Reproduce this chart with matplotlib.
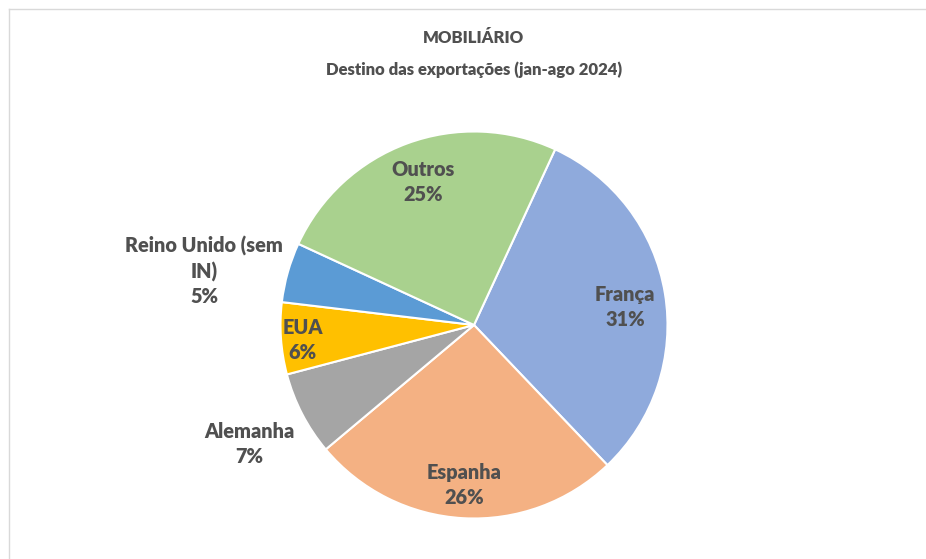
import matplotlib
matplotlib.use("Agg")
import matplotlib.pyplot as plt
from matplotlib.lines import Line2D

categories = ["França", "Espanha", "Alemanha", "EUA", "Reino Unido (sem\nIN)", "Outros"]
values = [31, 26, 7, 6, 5, 25]
colors = ["#8FAADC", "#F4B183", "#A5A5A5", "#FFC000", "#5B9BD5", "#A9D18E"]
title = "MOBILIÁRIO\nDestino das exportações (jan-ago 2024)"

# label positions in units of pie radius (relative to centre)
label_pos = [(0.78, 0.093), (-0.052, -0.827), (-1.16, -0.615),
             (-0.885, -0.078), (-1.395, 0.279), (-0.264, 0.739)]

plt.rcParams['font.family'] = ['Lato', 'DejaVu Sans']
W, H = 926, 559
fig = plt.figure(figsize=(W / 100, H / 100), dpi=100)

cx, cy, r = 474, 325, 193.5
ax = fig.add_axes([(cx - r) / W, (H - cy - r) / H, 2 * r / W, 2 * r / H])
start = 90 - 24.8
ax.pie(values, colors=colors, startangle=start, counterclock=False,
       wedgeprops=dict(edgecolor="white", linewidth=1.5), radius=1)
ax.set_xlim(-1, 1)
ax.set_ylim(-1, 1)
ax.set_aspect('equal')
ax.axis('off')

total = sum(values)
for cat, v, (x, y) in zip(categories, values, label_pos):
    ax.text(x, y, f"{cat}\n{round(100 * v / total)}%", ha='center', va='center',
            fontsize=14.3, fontweight='heavy', color='#505050', linespacing=1.35,
            clip_on=False)

fig.text(cx / W, 1 - 54 / H, title, ha='center', va='center', fontsize=12.0,
         fontweight='heavy', color='#505050', linespacing=2.2)

# chart area border
fig.add_artist(Line2D([9 / W, 1], [1 - 9 / H, 1 - 9 / H], color='#D9D9D9', lw=1))
fig.add_artist(Line2D([9 / W, 9 / W], [0, 1 - 9 / H], color='#D9D9D9', lw=1))

fig.savefig("out.png", dpi=100)
